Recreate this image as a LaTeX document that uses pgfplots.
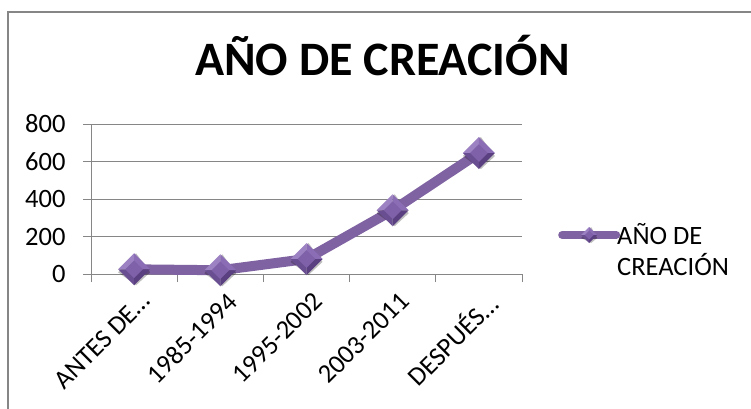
\documentclass[border=0pt]{standalone}
\usepackage{pgfplots}
\pgfplotsset{compat=1.18}
\usepackage{fontspec}
\setmainfont{Carlito}
\definecolor{linec}{HTML}{7F62A1}
\definecolor{mtl}{HTML}{9C82C2}
\definecolor{mtr}{HTML}{8A6DB4}
\definecolor{mbl}{HTML}{6A4E92}
\definecolor{mbr}{HTML}{5A4080}
\definecolor{mc}{HTML}{7E61A8}
\definecolor{gridc}{HTML}{868686}
\pgfdeclareplotmark{facet}{%
  \pgfsetfillopacity{0.25}\pgfsetfillcolor{black}%
  \pgfpathmoveto{\pgfqpoint{-\pgfplotmarksize+2pt}{-3pt}}\pgfpathlineto{\pgfqpoint{2pt}{\pgfplotmarksize-3pt}}\pgfpathlineto{\pgfqpoint{\pgfplotmarksize+2pt}{-3pt}}\pgfpathlineto{\pgfqpoint{2pt}{-\pgfplotmarksize-3pt}}\pgfpathclose\pgfusepathqfill
  \pgfsetfillopacity{1}%
  \pgfsetfillcolor{mtl}%
  \pgfpathmoveto{\pgfqpoint{-\pgfplotmarksize}{0pt}}\pgfpathlineto{\pgfqpoint{0pt}{\pgfplotmarksize}}\pgfpathlineto{\pgfqpoint{0pt}{0pt}}\pgfpathclose\pgfusepathqfill
  \pgfsetfillcolor{mtr}%
  \pgfpathmoveto{\pgfqpoint{\pgfplotmarksize}{0pt}}\pgfpathlineto{\pgfqpoint{0pt}{\pgfplotmarksize}}\pgfpathlineto{\pgfqpoint{0pt}{0pt}}\pgfpathclose\pgfusepathqfill
  \pgfsetfillcolor{mbl}%
  \pgfpathmoveto{\pgfqpoint{-\pgfplotmarksize}{0pt}}\pgfpathlineto{\pgfqpoint{0pt}{-\pgfplotmarksize}}\pgfpathlineto{\pgfqpoint{0pt}{0pt}}\pgfpathclose\pgfusepathqfill
  \pgfsetfillcolor{mbr}%
  \pgfpathmoveto{\pgfqpoint{\pgfplotmarksize}{0pt}}\pgfpathlineto{\pgfqpoint{0pt}{-\pgfplotmarksize}}\pgfpathlineto{\pgfqpoint{0pt}{0pt}}\pgfpathclose\pgfusepathqfill
  \pgfsetfillcolor{mc}%
  \pgfpathmoveto{\pgfqpoint{-0.55\pgfplotmarksize}{0pt}}\pgfpathlineto{\pgfqpoint{0pt}{0.55\pgfplotmarksize}}\pgfpathlineto{\pgfqpoint{0.55\pgfplotmarksize}{0pt}}\pgfpathlineto{\pgfqpoint{0pt}{-0.55\pgfplotmarksize}}\pgfpathclose\pgfusepathqfill
}
\begin{document}
\begin{tikzpicture}[x=1bp,y=1bp]
\path[use as bounding box] (0,0) rectangle (751,408);
\draw[gridc, line width=1.5bp] (8,-5) -- (8,396) -- (760,396);
\node[font=\fontsize{48bp}{57bp}\selectfont\bfseries, anchor=base, inner sep=0pt] at (382.5,333) {AÑO DE CREACIÓN};
\begin{axis}[
  at={(91bp,134bp)}, anchor=south west,
  scale only axis, width=431bp, height=150bp,
  clip=false,
  xmin=-0.5, xmax=4.5, ymin=0, ymax=800,
  ytick={0,200,...,800},
  xtick={0,1,2,3,4},
  xticklabels={ANTES DE…, 1985-1994, 1995-2002, 2003-2011, DESPUÉS…},
  minor xtick={-0.5,0.5,1.5,2.5,3.5,4.5},
  major x tick style={draw=none},
  tick align=outside,
  major tick length=8bp, minor tick length=8bp,
  tick style={gridc, line width=1bp},
  axis x line*=bottom, axis y line*=left,
  axis line style={-, gridc, line width=1bp},
  ymajorgrids, grid style={gridc, line width=1bp},
  /pgf/number format/assume math mode=true,
  every tick label/.append style={font=\fontsize{26.5bp}{31bp}\selectfont},
  xticklabel style={rotate=45, anchor=north east, inner sep=2bp, yshift=-8bp},
  yticklabel style={xshift=-14bp},
  legend style={at={(1.0835,0.16)}, anchor=west, draw=none, fill=none,
    font=\fontsize{26.5bp}{31bp}\selectfont, cells={align=left}, inner sep=0pt,
    column sep=-5bp},
  legend cell align=left,
  legend image code/.code={
    \path[draw=none, fill=none] (0bp,-19bp) -- (0bp,19bp);
    \draw[linec, line width=8bp, line cap=round] (4bp,15bp) -- (58bp,15bp);
    \draw[mark=facet, mark size=8bp] plot coordinates {(31bp,15bp)};
  },
]
\addplot[linec, line width=10bp, line join=round, mark=facet, mark size=16bp]
  coordinates {(0,25) (1,20) (2,80) (3,340) (4,645)};
\addlegendentry{AÑO DE\\CREACIÓN}
\end{axis}
\end{tikzpicture}
\end{document}
